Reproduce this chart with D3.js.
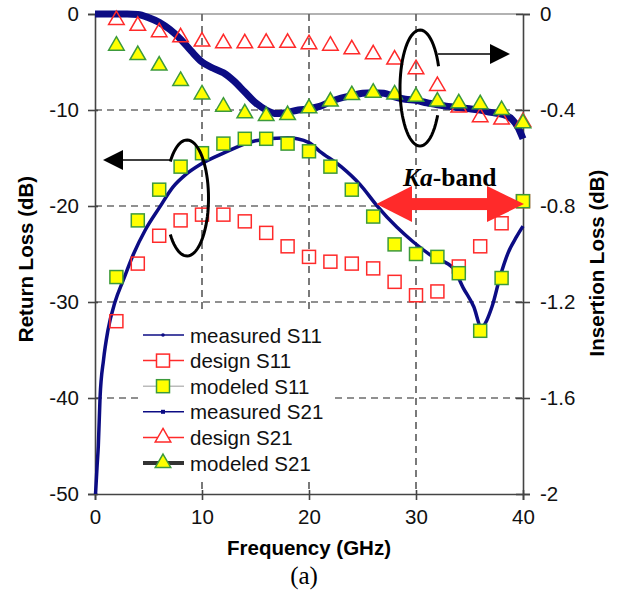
<!DOCTYPE html>
<html>
<head>
<meta charset="utf-8">
<script src="https://cdn.jsdelivr.net/npm/d3@7"></script>
<style>
  body { margin: 0; background: #fff; }
  text { font-family: "Liberation Sans", Arial, sans-serif; }
</style>
</head>
<body>
<svg id="chart" width="618" height="593"></svg>
<script>
// marker frequencies (GHz)
const freq = [2,4,6,8,10,12,14,16,18,20,22,24,26,28,30,32,34,36,38,40]

// return loss (dB), left axis
const designS11  = [-32.0,-26.0,-23.1,-21.5,-20.9,-20.9,-21.6,-22.8,-24.2,-25.3,-25.8,-26.0,-26.5,-27.9,-29.3,-28.9,-26.3,-24.2,-21.8,-19.5]
const modeledS11 = [-27.4,-21.5,-18.3,-15.9,-14.5,-13.5,-13.0,-13.0,-13.5,-14.3,-15.9,-18.3,-21.1,-24.0,-25.0,-25.3,-27.0,-33.0,-27.5,-19.5]

// insertion loss (dB), right axis
const designS21  = [-0.025,-0.049,-0.076,-0.097,-0.115,-0.122,-0.122,-0.12,-0.12,-0.126,-0.132,-0.147,-0.168,-0.19,-0.23,-0.30,-0.39,-0.43,-0.44,-0.45]
const modeledS21 = [-0.132,-0.171,-0.215,-0.279,-0.335,-0.386,-0.414,-0.425,-0.421,-0.393,-0.365,-0.338,-0.328,-0.335,-0.345,-0.365,-0.372,-0.376,-0.40,-0.455]

// measured traces
const measS11_f = [0.05,0.2,0.31,0.47,0.8,1.2,1.87,2.65,3.6,4.7,6,7.3,8.5,9.8,12,15,18,20,21,23,24.8,26.3,28.2,29.7,31.6,33.5,34.4,35.4,36.1,37.1,37.85,38.6,39.4,40]
const measS11   = [-50,-47,-45,-40,-36,-33,-30,-27.7,-25,-22.5,-20.2,-18,-16.7,-15.7,-14.5,-13.2,-12.9,-13.4,-14.3,-15.9,-17.8,-19.9,-22.2,-23.7,-25.3,-26.5,-28.5,-30.5,-32.6,-30.5,-27.4,-24.9,-23.2,-22.1]
const measS21_f = [0,1,2,3,4,5,6,7,8,9,10,11,12,13,14,15,16,17,18,19,20,21,22,23,24,25,26,27,28,29,30,31,32,33,34,35,36,37,38,39,39.5,40]
const measS21   = [0,0,0,0,-0.002,-0.015,-0.035,-0.065,-0.105,-0.155,-0.2,-0.225,-0.245,-0.28,-0.325,-0.37,-0.4,-0.415,-0.41,-0.4,-0.395,-0.385,-0.365,-0.35,-0.34,-0.33,-0.328,-0.33,-0.345,-0.355,-0.36,-0.37,-0.378,-0.385,-0.39,-0.395,-0.4,-0.41,-0.417,-0.44,-0.47,-0.52]

const xTicks  = [0,10,20,30,40]
const yLTicks = [0,-10,-20,-30,-40,-50]
const yRTicks = [0,-0.4,-0.8,-1.2,-1.6,-2]

const legendNames = ['measured S11','design S11','modeled S11','measured S21','design S21','modeled S21']

const svg = d3.select('#chart')
const navy = '#0c0c84', red = '#ff2a2a', green = '#3c9a3c', yellow = '#ffff00'
const fs = 20.5

const x  = d3.scaleLinear().domain([0,40]).range([95,523])
const yL = d3.scaleLinear().domain([-50,0]).range([494,14])
const yR = d3.scaleLinear().domain([-2,0]).range([494,14])

// Grid
const grid = svg.append('g').attr('stroke','#222').attr('stroke-width',1.2).attr('stroke-dasharray','7,5')
grid.selectAll('.vg').data([10,20,30]).enter().append('line')
  .attr('x1', d=>x(d)).attr('x2', d=>x(d)).attr('y1', yL(0)).attr('y2', yL(-50))
grid.selectAll('.hg').data([-10,-20,-30,-40]).enter().append('line')
  .attr('x1', x(0)).attr('x2', x(40)).attr('y1', d=>yL(d)).attr('y2', d=>yL(d))

// top border
svg.append('line').attr('x1',x(0)).attr('x2',x(40)).attr('y1',yL(0)).attr('y2',yL(0))
  .attr('stroke','#666').attr('stroke-width',1.2)

// Axes (hyphen minus like the original)
const fmt = d => String(d)
function styleAxis(g) {
  g.select('.domain').attr('stroke','#444').attr('stroke-width',1.6)
  g.selectAll('.tick line').attr('stroke','#444').attr('stroke-width',1.6)
  g.selectAll('.tick text').attr('font-size',fs).attr('fill','#111')
    .attr('font-family','"Liberation Sans", Arial, sans-serif')
}
const ax = svg.append('g').attr('transform',`translate(0,${yL(-50)})`)
  .call(d3.axisBottom(x).tickValues(xTicks).tickSize(6).tickPadding(9).tickFormat(fmt))
ax.selectAll('.tick line').attr('y1',-4)
styleAxis(ax)

const al = svg.append('g').attr('transform',`translate(${x(0)},0)`)
  .call(d3.axisLeft(yL).tickValues(yLTicks).tickSize(7).tickPadding(9).tickFormat(fmt))
al.selectAll('.tick line').attr('x1',3)
styleAxis(al)

const ar = svg.append('g').attr('transform',`translate(${x(40)},0)`)
  .call(d3.axisRight(yR).tickValues(yRTicks).tickSize(7).tickPadding(10).tickFormat(fmt))
ar.selectAll('.tick line').attr('x1',-7)
styleAxis(ar)

// Axis titles
svg.append('text').attr('transform','translate(33,259) rotate(-90)')
  .attr('text-anchor','middle').attr('font-weight','bold').attr('font-size',fs).text('Return Loss (dB)')
svg.append('text').attr('transform','translate(604,263) rotate(-90)')
  .attr('text-anchor','middle').attr('font-weight','bold').attr('font-size',fs).text('Insertion Loss (dB)')
svg.append('text').attr('x',309).attr('y',555)
  .attr('text-anchor','middle').attr('font-weight','bold').attr('font-size',fs).text('Frequency (GHz)')
svg.append('text').attr('x',304).attr('y',584).attr('text-anchor','middle')
  .style('font-family','"Liberation Serif", "Times New Roman", serif').attr('font-size',25).text('(a)')

// Measured traces
const lineL = d3.line().x(d=>x(d[0])).y(d=>yL(d[1])).curve(d3.curveMonotoneX)
const lineR = d3.line().x(d=>x(d[0])).y(d=>yR(d[1])).curve(d3.curveMonotoneX)

svg.append('path').datum(measS21_f.map((f,i)=>[f,measS21[i]]))
  .attr('d', lineR).attr('fill','none').attr('stroke',navy).attr('stroke-width',7).attr('stroke-linejoin','round')
svg.append('path').datum(measS11_f.map((f,i)=>[f,measS11[i]]))
  .attr('d', lineL).attr('fill','none').attr('stroke',navy).attr('stroke-width',3.5)

// Markers
const tri = d3.symbol().type(d3.symbolTriangle).size(105)

svg.append('g').selectAll('path').data(freq).enter().append('path')
  .attr('d', tri).attr('transform',(d,i)=>`translate(${x(d)},${yR(designS21[i])})`)
  .attr('fill','none').attr('stroke',red).attr('stroke-width',1.5)

svg.append('g').selectAll('rect').data(freq).enter().append('rect')
  .attr('x', d=>x(d)-6.5).attr('y',(d,i)=>yL(designS11[i])-6.5)
  .attr('width',13).attr('height',13)
  .attr('fill','none').attr('stroke',red).attr('stroke-width',1.5)

svg.append('g').selectAll('rect').data(freq).enter().append('rect')
  .attr('x', d=>x(d)-6.5).attr('y',(d,i)=>yL(modeledS11[i])-6.5)
  .attr('width',13).attr('height',13)
  .attr('fill',yellow).attr('stroke',green).attr('stroke-width',1.5)

svg.append('g').selectAll('path').data(freq).enter().append('path')
  .attr('d', tri).attr('transform',(d,i)=>`translate(${x(d)},${yR(modeledS21[i])})`)
  .attr('fill',yellow).attr('stroke',green).attr('stroke-width',1.5)

// Ellipse annotations
function arc(cx, cy, rx, ry, a0, a1) {
  const pts = d3.range(0, 61).map(k => {
    const a = (a0 + (a1-a0)*k/60) * Math.PI/180
    return [cx + rx*Math.cos(a), cy + ry*Math.sin(a)]
  })
  return d3.line()(pts)
}
svg.append('path').attr('d', arc(187,198,21.5,58,219,501))
  .attr('fill','none').attr('stroke','#000').attr('stroke-width',3)
svg.append('path').attr('d', arc(420,88,20,58,-22,-332))
  .attr('fill','none').attr('stroke','#000').attr('stroke-width',3)

svg.append('line').attr('x1',171).attr('x2',122).attr('y1',160).attr('y2',160).attr('stroke','#000').attr('stroke-width',1.5)
svg.append('path').attr('d','M103,160L123,150L123,170Z').attr('fill','#000')
svg.append('line').attr('x1',438).attr('x2',491).attr('y1',54).attr('y2',54).attr('stroke','#000').attr('stroke-width',1.5)
svg.append('path').attr('d','M510,54L490,44L490,64Z').attr('fill','#000')

// Ka-band arrow
const ka = svg.append('g').attr('fill',red)
const ay = yL(-19.8)
ka.append('rect').attr('x',410).attr('y',ay-6).attr('width',78).attr('height',12)
ka.append('path').attr('d',`M${x(26.3)},${ay}L${412},${ay-18}L${412},${ay+18}Z`)
ka.append('path').attr('d',`M${x(40)+1},${ay}L${487},${ay-18}L${487},${ay+18}Z`)
const kt = svg.append('text').attr('x',403).attr('y',186).attr('font-size',25.5).attr('font-weight','bold')
  .style('font-family','"Liberation Serif", "Times New Roman", serif')
kt.append('tspan').attr('font-style','italic').text('Ka')
kt.append('tspan').text('-band')

// Legend
const lg = svg.append('g')
lg.append('rect').attr('x',138).attr('y',312).attr('width',196).attr('height',166).attr('fill','#fff')
const lineCol = [navy, red, '#bbbbbb', navy, red, '#333']
const lineW = [1.5, 1.5, 1.5, 1.5, 1.5, 4]
legendNames.forEach((name, i) => {
  const ly = 335 + i*25.6
  lg.append('line').attr('x1',143).attr('x2',184).attr('y1',ly).attr('y2',ly)
    .attr('stroke',lineCol[i]).attr('stroke-width',lineW[i])
  if (i===0) lg.append('circle').attr('cx',163).attr('cy',ly).attr('r',1.8).attr('fill',navy)
  if (i===3) lg.append('rect').attr('x',161).attr('y',ly-2).attr('width',4).attr('height',4).attr('fill',navy)
  if (i===1) lg.append('rect').attr('x',156.5).attr('y',ly-6.5).attr('width',13).attr('height',13).attr('fill','#fff').attr('stroke',red).attr('stroke-width',1.5)
  if (i===2) lg.append('rect').attr('x',156.5).attr('y',ly-6.5).attr('width',13).attr('height',13).attr('fill',yellow).attr('stroke',green).attr('stroke-width',1.5)
  if (i===4) lg.append('path').attr('d',tri).attr('transform',`translate(163,${ly})`).attr('fill','#fff').attr('stroke',red).attr('stroke-width',1.5)
  if (i===5) lg.append('path').attr('d',tri).attr('transform',`translate(163,${ly})`).attr('fill',yellow).attr('stroke',green).attr('stroke-width',1.5)
  lg.append('text').attr('x',190).attr('y',ly+7.5).attr('font-size',fs).attr('fill','#111').text(name)
})
</script>
</body>
</html>
